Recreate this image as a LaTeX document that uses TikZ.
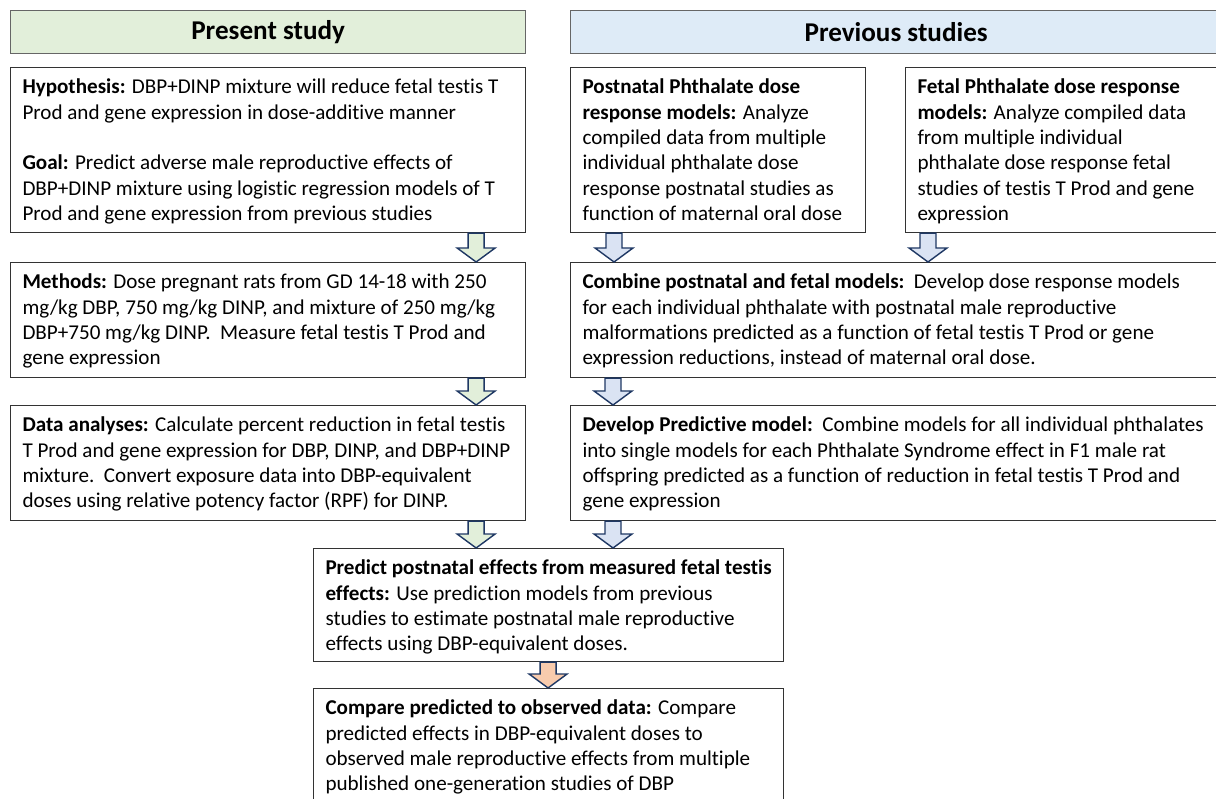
\documentclass[tikz,border=0pt]{standalone}
\usepackage{fontspec}
\setmainfont{Carlito}[Ligatures=NoCommon]
\usetikzlibrary{calc}
\definecolor{hdgreen}{HTML}{E2EFDA}
\definecolor{hdblue}{HTML}{DEEBF7}
\definecolor{arblue}{HTML}{DAE3F3}
\definecolor{arorange}{HTML}{F8CBAD}
\definecolor{arline}{HTML}{1F3864}
\tikzstyle{header}=[draw=gray!80!black,line width=0.8pt,anchor=north west,font=\fontsize{19.3}{22}\selectfont\bfseries,inner sep=0pt]
\tikzstyle{stepbox}=[draw=black!80,line width=0.8pt,anchor=north west,inner xsep=8.5pt,inner ysep=8pt,font=\fontsize{15}{18.1}\selectfont]
\tikzstyle{arrowline}=[draw=arline,line width=1pt,line join=miter]
% box text: width, height, content
\newcommand{\steptext}[3]{\parbox[c][\dimexpr#2-16pt\relax][t]{\dimexpr#1-17pt\relax}{\raggedright #3}}
% block arrow: fill, from, to, shift from west side
\newcommand{\flowarrow}[4]{%
  \path ([xshift=#4]#2.south west) coordinate (t) (t |- #3.north) coordinate (b);
  \draw[arrowline,fill=#1] ($(t)+(-8,0)$) -- ($(b)+(-8,-14)$) -- ($(b)+(-19,-14)$) -- (b)
    -- ($(b)+(19,-14)$) -- ($(b)+(8,-14)$) -- ($(t)+(8,0)$) -- cycle;}

\begin{document}
\begin{tikzpicture}[x=0.025cm,y=-0.025cm]
\useasboundingbox (0,0) rectangle (1216,799);
\clip (0,0) rectangle (1216,799);

\node[header,fill=hdgreen,minimum width=12.875cm,minimum height=1.075cm] (present) at (10,10) {Present study};
\node[header,fill=hdblue,minimum width=16.375cm,minimum height=1.075cm] (previous) at (570,10) {\hspace*{-0.1cm}Previous studies};

\node[stepbox] (hyp) at (10,67) {\steptext{12.875cm}{4.125cm}{%
\textbf{Hypothesis:} DBP+DINP mixture will reduce fetal testis T\\
Prod and gene expression in dose-additive manner\\
\mbox{}\\
\textbf{Goal:} Predict adverse male reproductive effects of\\
DBP+DINP mixture using logistic regression models of T\\
Prod and gene expression from previous studies}};
\node[stepbox] (post) at (570,67) {\steptext{7.375cm}{4.125cm}{%
\textbf{Postnatal Phthalate dose}\\
\textbf{response models:} Analyze\\
compiled data from multiple\\
individual phthalate dose\\
response postnatal studies as\\
function of maternal oral dose}};
\node[stepbox] (fetal) at (905,67) {\steptext{8cm}{4.125cm}{%
\textbf{Fetal Phthalate dose response}\\
\textbf{models:} Analyze compiled data\\
from multiple individual\\
phthalate dose response fetal\\
studies of testis T Prod and gene\\
expression}};

\node[stepbox] (methods) at (10,262) {\steptext{12.875cm}{2.875cm}{%
\textbf{Methods:} Dose pregnant rats from GD 14-18 with 250\\
mg/kg DBP, 750 mg/kg DINP, and mixture of 250 mg/kg\\
DBP+750 mg/kg DINP.\ \ Measure fetal testis T Prod and\\
gene expression}};
\node[stepbox] (combine) at (570,262) {\steptext{16.375cm}{2.875cm}{%
\textbf{Combine postnatal and fetal models:}\ \ Develop dose response models\\
for each individual phthalate with postnatal male reproductive\\
malformations predicted as a function of fetal testis T Prod or gene\\
expression reductions, instead of maternal oral dose.}};

\node[stepbox] (data) at (10,405) {\steptext{12.875cm}{2.875cm}{%
\textbf{Data analyses:} Calculate percent reduction in fetal testis\\
T Prod and gene expression for DBP, DINP, and DBP+DINP\\
mixture.\ \ Convert exposure data into DBP-equivalent\\
doses using relative potency factor (RPF) for DINP.}};
\node[stepbox] (develop) at (570,405) {\steptext{16.375cm}{2.875cm}{%
\textbf{Develop Predictive model:}\ \ Combine models for all individual phthalates\\
into single models for each Phthalate Syndrome effect in F1 male rat\\
offspring predicted as a function of reduction in fetal testis T Prod and\\
gene expression}};

\node[stepbox] (predict) at (313,548) {\steptext{11.75cm}{2.825cm}{%
\textbf{Predict postnatal effects from measured fetal testis}\\
\textbf{effects:} Use prediction models from previous\\
studies to estimate postnatal male reproductive\\
effects using DBP-equivalent doses.}};
\node[stepbox] (compare) at (313,688) {\steptext{11.75cm}{3.05cm}{%
\textbf{Compare predicted to observed data:} Compare\\
predicted effects in DBP-equivalent doses to\\
observed male reproductive effects from multiple\\
published one-generation studies of DBP}};

\flowarrow{hdgreen}{hyp}{methods}{11.65cm}
\flowarrow{arblue}{post}{combine}{1.1cm}
\flowarrow{arblue}{fetal}{combine}{0.575cm}
\flowarrow{hdgreen}{methods}{data}{11.65cm}
\flowarrow{arblue}{combine}{develop}{1.075cm}
\flowarrow{hdgreen}{data}{predict}{11.65cm}
\flowarrow{arblue}{develop}{predict}{1.075cm}
\flowarrow{arorange}{predict}{compare}{5.875cm}

\end{tikzpicture}
\end{document}
